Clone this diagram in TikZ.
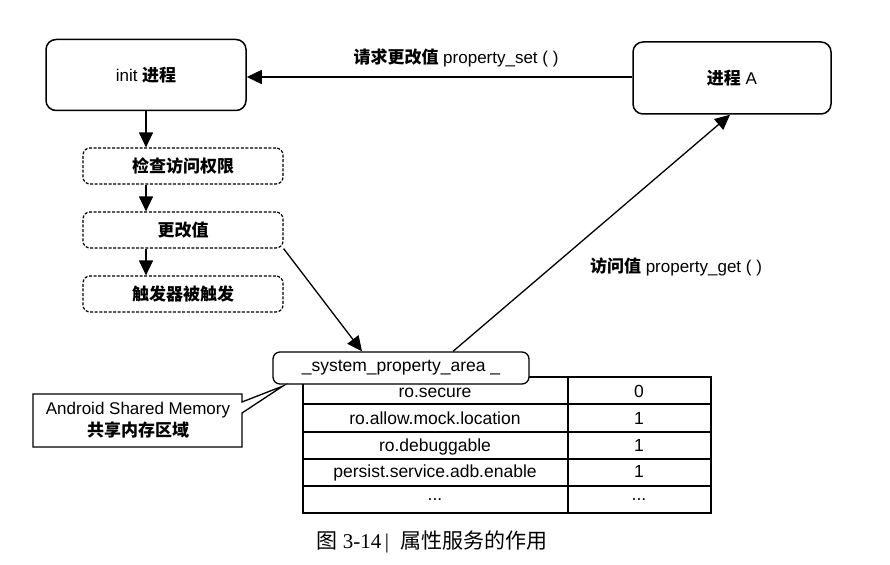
\documentclass[tikz,border=0pt]{standalone}
\usepackage{fontspec}
\setmainfont{Liberation Sans}
\newfontfamily\cjk{Noto Sans CJK SC}
\newfontfamily\capserif{Liberation Serif}
\newcommand\zhb[1]{{\cjk\bfseries #1}}
\usetikzlibrary{arrows.meta}
\begin{document}
\begin{tikzpicture}[x=1pt,y=-1pt,
  txt/.style={font=\fontsize{17}{20}\selectfont, inner sep=0pt},
  proc/.style={draw, line width=1.5pt, rounded corners=10pt, fill=white,
    minimum width=200pt, minimum height=71pt, inner sep=0pt, font=\fontsize{17}{20}\selectfont},
  stepbox/.style={draw, dash pattern=on 3pt off 1.6pt, line width=1.2pt, rounded corners=7pt,
    fill=white, minimum width=200pt, minimum height=36pt, inner sep=0pt, font=\fontsize{17}{20}\selectfont},
  areabox/.style={draw, line width=1.3pt, rounded corners=7pt, fill=white,
    minimum width=256pt, minimum height=32pt, inner sep=0pt, font=\fontsize{17.5}{20}\selectfont},
  cell/.style={font=\fontsize{17.5}{20}\selectfont, inner sep=0pt, text height=12.6pt, text depth=3.7pt},
  arr/.style={-{Triangle[length=15pt,width=14pt]}, line width=1.3pt},
  grid/.style={line width=1.1pt}]
\useasboundingbox (0,0) rectangle (890,564);

% table
\draw[grid] (303,377) rectangle (711,513);
\draw[grid] (568,377) -- (568,513);
\foreach \yy in {404,432,459,486} \draw[grid] (303,\yy) -- (711,\yy);
\node[cell] (k1) at (435,393.5) {ro.secure};
\node[cell] (v1) at (639,393.5) {0};
\node[cell] (k2) at (435,420.5) {ro.allow.mock.location};
\node[cell] (v2) at (639,420.5) {1};
\node[cell] (k3) at (435,447) {ro.debuggable};
\node[cell] (v3) at (639,447) {1};
\node[cell] (k4) at (435,473.5) {persist.service.adb.enable};
\node[cell] (v4) at (639,473.5) {1};
\node[cell] (k5) at (435,496.5) {...};
\node[cell] (v5) at (639,496.5) {...};

% boxes
\node[proc] (init) at (146,75) {init \zhb{进程}};
\node[proc, minimum width=198pt, minimum height=72pt] (procA) at (732,78) {\zhb{进程} A};
\node[stepbox] (check) at (183,166) {\zhb{检查访问权限}};
\node[stepbox] (change) at (183,230) {\zhb{更改值}};
\node[stepbox] (trig) at (183,294) {\zhb{触发器被触发}};
\node[areabox] (spa) at (401,368) {\_system\_property\_area \_};

% connectors
\draw[arr] (procA.west |- 0,77) -- (init.east |- 0,77);
\node[txt] (setlbl) at (456,58) {\zhb{请求更改值} property\_set ( )};
\draw[arr] (init.south) -- (init.south |- check.north);
\draw[arr] (check.south -| init.south) -- (init.south |- change.north);
\draw[arr] (change.south -| init.south) -- (init.south |- trig.north);
\draw[arr] (change.south east) -- ([xshift=-39pt]spa.north);
\draw[arr] ([xshift=52pt]spa.north) -- ([xshift=-2pt]procA.south);
\node[txt] (getlbl) at (676,267) {\zhb{访问值} property\_get ( )};

% callout
\draw[line width=1.3pt, fill=white] (33,394) -- (242,394) -- (242,402) -- (283,386)
  -- (242,413) -- (242,447) -- (33,447) -- cycle;
\node[txt, align=center, font=\fontsize{17}{22}\selectfont] (mem) at (138,420)
  {Android Shared Memory\\\zhb{共享内存区域}};

% caption
\node[inner sep=0pt, font=\fontsize{21}{24}\selectfont] (cap) at (432,542)
  {{\cjk 图} {\capserif 3-14\,|} \ {\cjk 属性服务的作用}};
\end{tikzpicture}
\end{document}
